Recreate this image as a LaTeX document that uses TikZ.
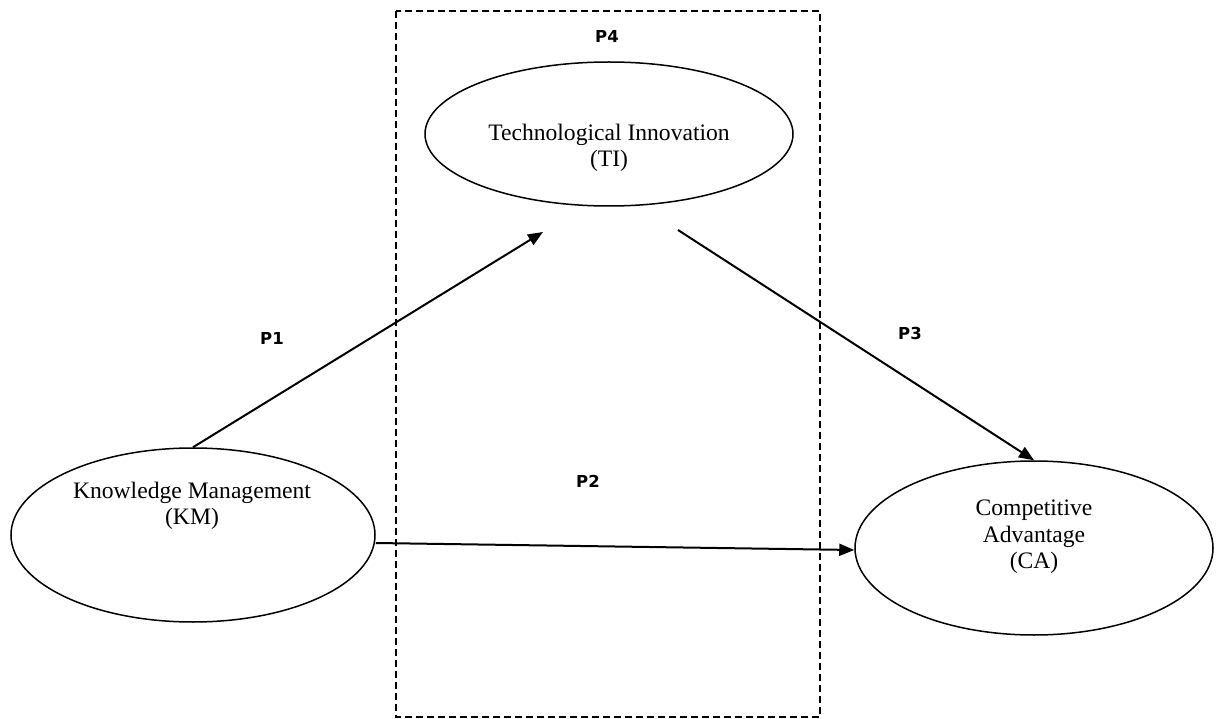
\documentclass[tikz,border=0pt]{standalone}
\usepackage{fontspec}
\setmainfont{Liberation Serif}
\newfontfamily\labelfont{DejaVu Sans}
\usetikzlibrary{arrows.meta,shapes.geometric}
\begin{document}
\begin{tikzpicture}[x=1pt,y=-1pt,
  construct/.style={draw=black,line width=1.5pt,ellipse,inner sep=0pt},
  ctext/.style={font=\fontsize{23.6}{26.5}\selectfont,align=center,inner sep=0pt},
  plabel/.style={font=\labelfont\bfseries\fontsize{16.5}{18}\selectfont,inner sep=0pt},
  path/.style={line width=2pt,-{Triangle[length=15pt,width=12pt]}},
  mediation/.style={draw=black,line width=2pt,dash pattern=on 7pt off 4pt}]
\useasboundingbox (0,0) rectangle (1216,719);
\fill[white] (0,0) rectangle (1216,719);

% mediator region
\draw[mediation] (396,11) rectangle (820,717);

% constructs
\node[construct,minimum width=364pt,minimum height=174pt] (km) at (193,535) {};
\node[construct,minimum width=368pt,minimum height=144pt] (ti) at (609,134) {};
\node[construct,minimum width=358pt,minimum height=174pt] (ca) at (1034,548) {};

\node[ctext] (kmtext) at (192,506) {Knowledge Management\\(KM)};
\node[ctext] (titext) at (609,148) {Technological Innovation\\(TI)};
\node[ctext] (catext) at (1034,537) {Competitive\\Advantage\\(CA)};

% free ends of the paths near the mediator
\coordinate (tiin) at (543,232);
\coordinate (tiout) at (678,230);

% hypothesised paths
\draw[path] (km.north) -- (tiin);
\draw[path] (tiout) -- (ca.north);
\draw[path] (km.east |- 0,543) -- (ca.west |- 0,550);

% path labels
\node[plabel] (p1) at (272,338) {P1};
\node[plabel] (p2) at (588,481) {P2};
\node[plabel] (p3) at (910,333) {P3};
\node[plabel] (p4) at (607,36) {P4};
\end{tikzpicture}
\end{document}
